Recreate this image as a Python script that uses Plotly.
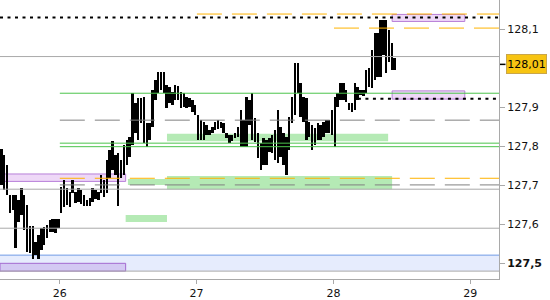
import plotly.graph_objects as go

# ---------------- data ----------------
day_labels = ["26", "27", "28", "29"]
day_start_bar = [20.5, 68.5, 116.5, 164.5]

highs = [127.793, 127.778, 127.752, 127.675, 127.675, 127.675, 127.662, 127.693, 127.675, 127.649,
         127.596, 127.596, 127.555, 127.572, 127.590, 127.593, 127.598, 127.611, 127.613, 127.613,
         127.613, 127.696, 127.713, 127.693, 127.683, 127.713, 127.683, 127.693, 127.688, 127.675,
         127.662, 127.667, 127.693, 127.688, 127.683, 127.726, 127.713, 127.765, 127.790, 127.813,
         127.778, 127.783, 127.765, 127.803, 127.816, 127.824, 127.937, 127.911, 127.924, 127.924,
         127.926, 127.860, 127.860, 127.944, 127.970, 127.990, 127.990, 127.990, 127.957, 127.952,
         127.939, 127.957, 127.955, 127.939, 127.937, 127.926, 127.924, 127.919, 127.906, 127.880,
         127.867, 127.862, 127.855, 127.842, 127.849, 127.862, 127.867, 127.862, 127.860, 127.834,
         127.829, 127.829, 127.834, 127.849, 127.893, 127.867, 127.926, 127.919, 127.937, 127.872,
         127.834, 127.808, 127.821, 127.816, 127.821, 127.829, 127.842, 127.893, 127.849, 127.834,
         127.824, 127.875, 127.926, 128.013, 128.013, 127.962, 127.926, 127.924, 127.862, 127.855,
         127.847, 127.860, 127.855, 127.862, 127.867, 127.867, 127.893, 127.926, 127.937, 127.962,
         127.962, 127.944, 127.911, 127.911, 127.962, 127.952, 127.944, 127.944, 127.995, 128.001,
         128.047, 128.090, 128.090, 128.124, 128.124, 128.124, 128.098, 128.065, 128.026]

lows = [127.701, 127.688, 127.675, 127.629, 127.637, 127.539, 127.606, 127.624, 127.585, 127.529,
        127.526, 127.511, 127.521, 127.511, 127.534, 127.547, 127.565, 127.580, 127.580, 127.578,
        127.590, 127.629, 127.644, 127.649, 127.644, 127.680, 127.655, 127.657, 127.652, 127.647,
        127.647, 127.647, 127.657, 127.665, 127.662, 127.680, 127.670, 127.680, 127.719, 127.739,
        127.726, 127.647, 127.719, 127.726, 127.752, 127.772, 127.803, 127.834, 127.816, 127.860,
        127.808, 127.798, 127.816, 127.849, 127.919, 127.937, 127.944, 127.937, 127.898, 127.911,
        127.906, 127.919, 127.919, 127.898, 127.901, 127.898, 127.901, 127.888, 127.880, 127.816,
        127.816, 127.816, 127.829, 127.829, 127.834, 127.842, 127.844, 127.847, 127.834, 127.821,
        127.808, 127.813, 127.821, 127.824, 127.798, 127.798, 127.798, 127.855, 127.816, 127.811,
        127.770, 127.739, 127.752, 127.752, 127.785, 127.783, 127.765, 127.757, 127.772, 127.752,
        127.726, 127.790, 127.860, 127.880, 127.937, 127.875, 127.862, 127.816, 127.824, 127.790,
        127.803, 127.816, 127.816, 127.824, 127.834, 127.834, 127.829, 127.798, 127.901, 127.919,
        127.919, 127.913, 127.893, 127.888, 127.893, 127.919, 127.931, 127.929, 127.937, 127.952,
        127.949, 127.970, 127.978, 127.978, 128.034, 127.988, 128.016, 127.995, 127.995]

current_price = 128.01

y_ticks = [127.5, 127.6, 127.7, 127.8, 127.9, 128.1]
y_tick_text = ["<b>127,5</b>", "127,6", "127,7", "127,8", "127,9", "128,1"]

# horizontal levels: price, start bar (None = full width)
gray_solid_levels = [128.030, 127.690, 127.590, 127.480]
dotted_levels = [128.130, 127.922]
dotted_starts = [None, 125.1]
orange_levels = [128.139, 128.103, 127.718]
orange_starts = [68.6, 116.7, 20.5]
gray_dash_levels = [127.867, 127.701]
gray_dash_starts = [20.5, 20.5]
green_levels = [127.936, 127.808, 127.799]
green_starts = [20.5, 20.5, 20.5]

# zones: x0 bar, x1 bar, low price, high price
green_zones = [(58.1, 135.7, 127.813, 127.832),
               (44.4, 58.1, 127.701, 127.716),
               (58.1, 137.1, 127.690, 127.724),
               (43.6, 58.1, 127.606, 127.624)]
purple_zones = [(-0.49, 43.6, 127.710, 127.729),
                (137.1, 162.6, 128.120, 128.138),
                (137.1, 162.6, 127.921, 127.942)]
purple_dark_zones = [(-0.49, 43.6, 127.480, 127.500)]
blue_band = (127.480, 127.521)

X_MIN, X_MAX = -0.49, 174.6
Y_MIN, Y_MAX = 127.4598, 128.175

# ---------------- figure ----------------
n = len(highs)
idx = list(range(n))
spans = [h - l for h, l in zip(highs, lows)]

fig = go.Figure()
fig.add_trace(go.Bar(x=idx, y=spans, base=lows, width=0.85,
                     marker=dict(color="black", line=dict(width=0)),
                     hoverinfo="skip", showlegend=False))

shapes = []
# blue band
shapes.append(dict(type="rect", xref="paper", yref="y", x0=0, x1=1,
                   y0=blue_band[0], y1=blue_band[1], fillcolor="#e6ecfd",
                   line=dict(width=0), layer="below"))
shapes.append(dict(type="line", xref="paper", yref="y", x0=0, x1=1,
                   y0=blue_band[1], y1=blue_band[1],
                   line=dict(color="#6f9ae6", width=1), layer="below"))
for x0, x1, y0, y1 in green_zones:
    shapes.append(dict(type="rect", xref="x", yref="y", x0=x0, x1=x1, y0=y0, y1=y1,
                       fillcolor="#b5eab5", line=dict(width=0), layer="below"))
for x0, x1, y0, y1 in purple_zones:
    shapes.append(dict(type="rect", xref="x", yref="y", x0=x0, x1=x1, y0=y0, y1=y1,
                       fillcolor="#eed8f7", line=dict(color="#b87fd8", width=1), layer="below"))
for x0, x1, y0, y1 in purple_dark_zones:
    shapes.append(dict(type="rect", xref="x", yref="y", x0=x0, x1=x1, y0=y0, y1=y1,
                       fillcolor="#d3c9f3", line=dict(color="#a36ad0", width=1), layer="below"))
for lv in gray_solid_levels:
    shapes.append(dict(type="line", xref="paper", yref="y", x0=0, x1=1, y0=lv, y1=lv,
                       line=dict(color="#a9a9a9", width=1)))
for lv, st in zip(gray_dash_levels, gray_dash_starts):
    shapes.append(dict(type="line", xref="x", yref="y", x0=st, x1=X_MAX, y0=lv, y1=lv,
                       line=dict(color="#808080", width=1, dash="25px,10px")))
for lv, st in zip(orange_levels, orange_starts):
    shapes.append(dict(type="line", xref="x", yref="y", x0=st, x1=X_MAX, y0=lv, y1=lv,
                       line=dict(color="#ffb300", width=1, dash="25px,10px")))
for lv, st in zip(green_levels, green_starts):
    shapes.append(dict(type="line", xref="x", yref="y", x0=st, x1=X_MAX, y0=lv, y1=lv,
                       line=dict(color="#4cc44c", width=1)))
for lv, st in zip(dotted_levels, dotted_starts):
    shapes.append(dict(type="line", xref="x", yref="y", x0=X_MIN if st is None else st,
                       x1=X_MAX, y0=lv, y1=lv,
                       line=dict(color="black", width=2, dash="3px,4.5px")))
# current price tick
shapes.append(dict(type="line", xref="paper", yref="y", x0=1.002, x1=1.013,
                   y0=current_price, y1=current_price, line=dict(color="black", width=1.5)))

fig.update_layout(
    width=550, height=300,
    margin=dict(l=0, r=51, t=0, b=21),
    plot_bgcolor="white", paper_bgcolor="white",
    font=dict(family="DejaVu Sans", size=11, color="#111111"),
    shapes=shapes,
    bargap=0,
    xaxis=dict(range=[X_MIN, X_MAX], tickvals=day_start_bar, ticktext=day_labels,
               showgrid=False, zeroline=False, showline=True, linecolor="#a9a9a9",
               ticks="outside", ticklen=4, tickcolor="#a9a9a9", tickfont=dict(size=11)),
    yaxis=dict(range=[Y_MIN, Y_MAX], side="right", tickvals=y_ticks, ticktext=y_tick_text,
               showgrid=False, zeroline=False, showline=True, linecolor="#a9a9a9",
               ticks="outside", ticklen=5, tickcolor="#a9a9a9", tickfont=dict(size=11)),
    annotations=[dict(xref="paper", yref="y", x=1, y=current_price, xanchor="left",
                      yanchor="middle", xshift=6.5, text="128,01", showarrow=False,
                      bgcolor="#f7c412", bordercolor="#c9a64a", borderwidth=1, borderpad=0,
                      width=39, height=18, font=dict(size=11, color="black"))],
)

fig.write_html("out.html")
